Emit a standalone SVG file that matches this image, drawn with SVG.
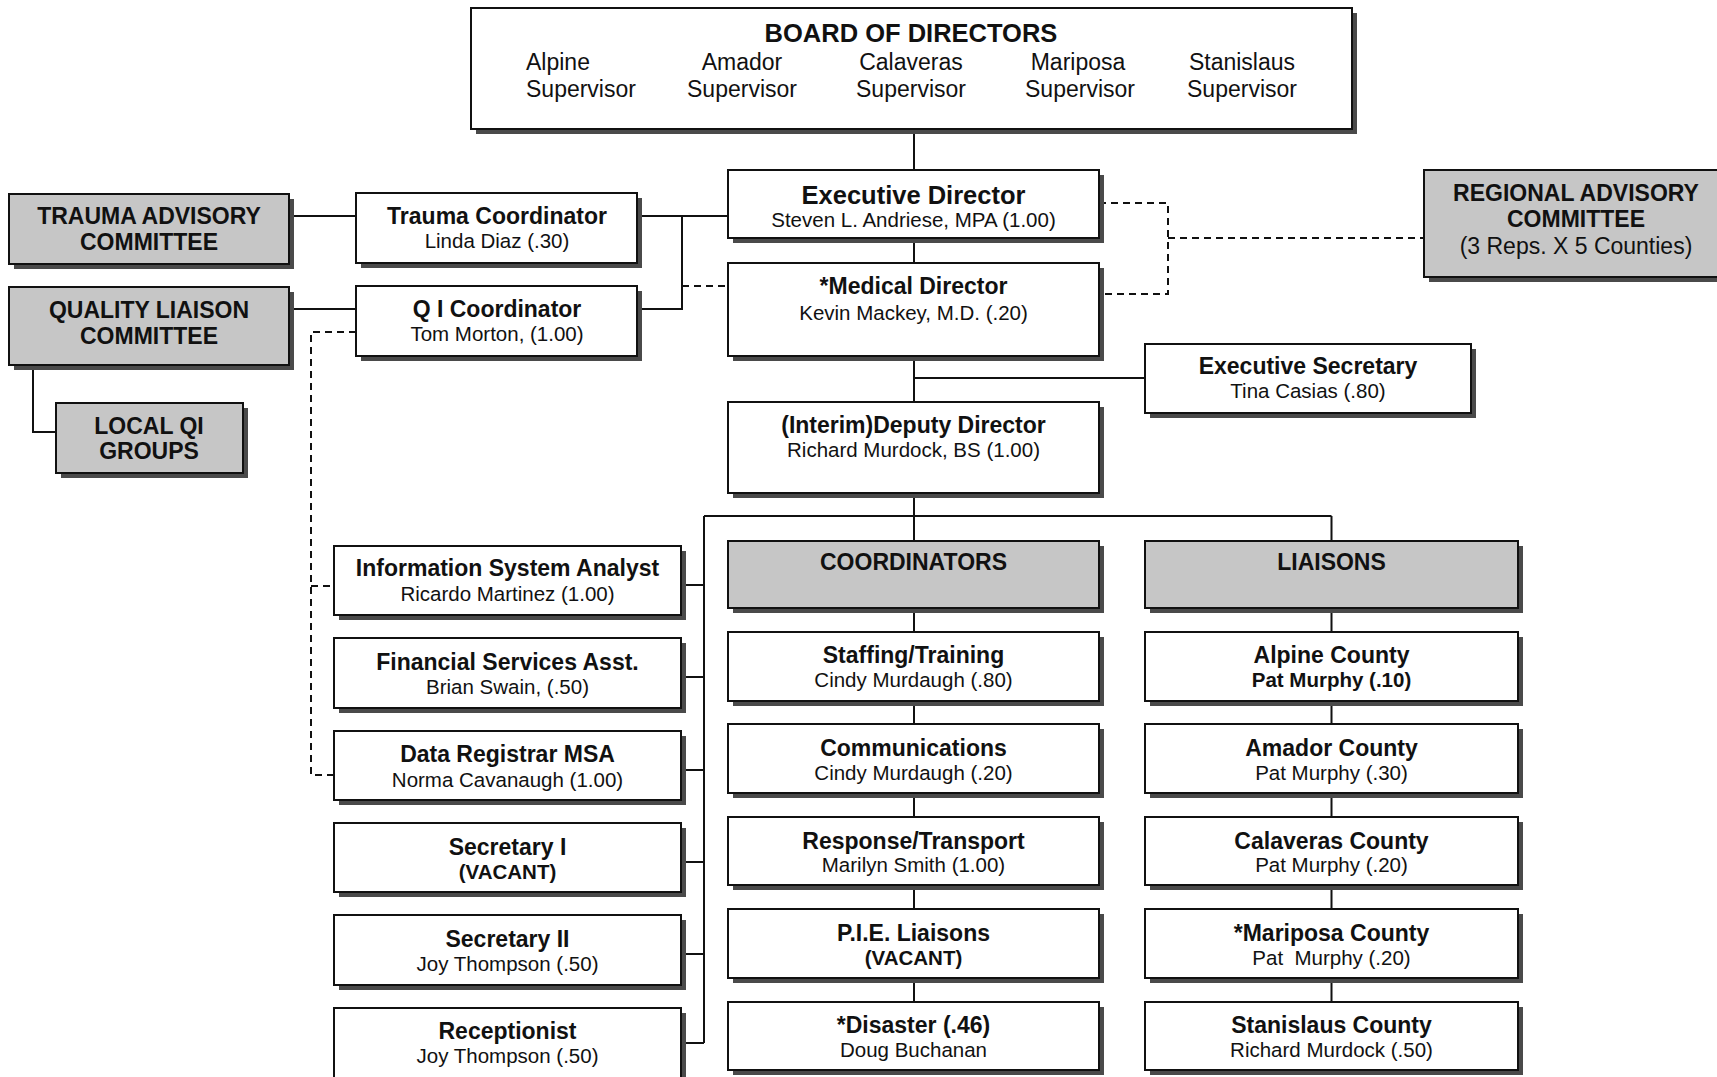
<svg xmlns="http://www.w3.org/2000/svg" width="1717" height="1077" viewBox="0 0 1717 1077">
<style>
text{font-family:"Liberation Sans",Arial,sans-serif;fill:#111;text-anchor:middle}
.t{font-size:23px;font-weight:bold}
.tb{font-size:25.5px;font-weight:bold}
.s{font-size:20.5px}
.sb{font-size:20.5px;font-weight:bold}
.c{font-size:23px}
.box{fill:#fff;stroke:#111;stroke-width:2}
.gbox{fill:#c6c6c6;stroke:#111;stroke-width:2}
.sh{fill:#4a4a4a}
.ln{fill:none;stroke:#111;stroke-width:2}
.dl{fill:none;stroke:#111;stroke-width:2;stroke-dasharray:7 5}
</style>
<rect width="1717" height="1077" fill="#fff"/>
<g id="connectors">
<path class="ln" d="M914 129V170M914 238V263M914 356V402M914 378H1145M914 493V516M704 516H1331.5M914 516V541M1331.5 516V541M704 516V1043"/>
<path class="ln" d="M681 585H704M681 677H704M681 770H704M681 862H704M681 954H704M681 1043H704"/>
<path class="ln" d="M914 608V632M914 701V724M914 793V817M914 885V909M914 978V1002"/>
<path class="ln" d="M1331.5 608V632M1331.5 701V724M1331.5 793V817M1331.5 885V909M1331.5 978V1002"/>
<path class="ln" d="M290 216H356M290 309H356M637 216H728M682 216V309H637M33 365V432H56"/>
<path class="dl" d="M682 286H728M1099 203H1168V294H1099M1168 238H1424M356 332H311V775H334M311 586H334"/>
</g>
<g id="board">
<rect class="sh" x="476" y="13" width="881" height="121"/>
<rect class="box" x="471" y="8" width="881" height="121"/>
<text class="tb" x="911" y="42">BOARD OF DIRECTORS</text>
<text class="c" x="526" y="70" text-anchor="start" style="text-anchor:start">Alpine</text>
<text class="c" x="526" y="97" style="text-anchor:start">Supervisor</text>
<text class="c" x="742" y="70">Amador</text>
<text class="c" x="742" y="97">Supervisor</text>
<text class="c" x="911" y="70">Calaveras</text>
<text class="c" x="911" y="97">Supervisor</text>
<text class="c" x="1078" y="70">Mariposa</text>
<text class="c" x="1080" y="97">Supervisor</text>
<text class="c" x="1242" y="70">Stanislaus</text>
<text class="c" x="1242" y="97">Supervisor</text>
</g>
<g id="exec-director">
<rect class="sh" x="733" y="175" width="371" height="68"/>
<rect class="box" x="728" y="170" width="371" height="68"/>
<text class="tb" x="913.5" y="204">Executive Director</text>
<text class="s" x="913.5" y="227">Steven L. Andriese, MPA (1.00)</text>
</g>
<g id="medical-director">
<rect class="sh" x="733" y="268" width="371" height="93"/>
<rect class="box" x="728" y="263" width="371" height="93"/>
<text class="t" x="913.5" y="294">*Medical Director</text>
<text class="s" x="913.5" y="320">Kevin Mackey, M.D. (.20)</text>
</g>
<g id="deputy-director">
<rect class="sh" x="733" y="407" width="371" height="91"/>
<rect class="box" x="728" y="402" width="371" height="91"/>
<text class="t" x="913.5" y="433">(Interim)Deputy Director</text>
<text class="s" x="913.5" y="457">Richard Murdock, BS (1.00)</text>
</g>
<g id="exec-secretary">
<rect class="sh" x="1150" y="349" width="326" height="69"/>
<rect class="box" x="1145" y="344" width="326" height="69"/>
<text class="t" x="1308" y="374">Executive Secretary</text>
<text class="s" x="1308" y="398">Tina Casias (.80)</text>
</g>
<g id="regional-advisory">
<rect class="sh" x="1429" y="175" width="300" height="107"/>
<rect class="gbox" x="1424" y="170" width="300" height="107"/>
<text class="t" x="1576" y="201">REGIONAL ADVISORY</text>
<text class="t" x="1576" y="227">COMMITTEE</text>
<text class="c" x="1576" y="254">(3 Reps. X 5 Counties)</text>
</g>
<g id="trauma-advisory">
<rect class="sh" x="14" y="199" width="280" height="70"/>
<rect class="gbox" x="9" y="194" width="280" height="70"/>
<text class="t" x="149" y="224">TRAUMA ADVISORY</text>
<text class="t" x="149" y="250">COMMITTEE</text>
</g>
<g id="quality-liaison">
<rect class="sh" x="14" y="292" width="280" height="78"/>
<rect class="gbox" x="9" y="287" width="280" height="78"/>
<text class="t" x="149" y="318">QUALITY LIAISON</text>
<text class="t" x="149" y="344">COMMITTEE</text>
</g>
<g id="local-qi">
<rect class="sh" x="61" y="408" width="187" height="70"/>
<rect class="gbox" x="56" y="403" width="187" height="70"/>
<text class="t" x="149" y="434">LOCAL QI</text>
<text class="t" x="149" y="459">GROUPS</text>
</g>
<g id="trauma-coordinator">
<rect class="sh" x="361" y="198" width="281" height="70"/>
<rect class="box" x="356" y="193" width="281" height="70"/>
<text class="t" x="497" y="224">Trauma Coordinator</text>
<text class="s" x="497" y="248">Linda Diaz (.30)</text>
</g>
<g id="qi-coordinator">
<rect class="sh" x="361" y="291" width="281" height="70"/>
<rect class="box" x="356" y="286" width="281" height="70"/>
<text class="t" x="497" y="317">Q I Coordinator</text>
<text class="s" x="497" y="341">Tom Morton, (1.00)</text>
</g>
<g id="info-analyst">
<rect class="sh" x="339" y="551" width="347" height="69"/>
<rect class="box" x="334" y="546" width="347" height="69"/>
<text class="t" x="507.5" y="576">Information System Analyst</text>
<text class="s" x="507.5" y="601">Ricardo Martinez (1.00)</text>
</g>
<g id="financial-asst">
<rect class="sh" x="339" y="643" width="347" height="70"/>
<rect class="box" x="334" y="638" width="347" height="70"/>
<text class="t" x="507.5" y="670">Financial Services Asst.</text>
<text class="s" x="507.5" y="694">Brian Swain, (.50)</text>
</g>
<g id="data-registrar">
<rect class="sh" x="339" y="736" width="347" height="69"/>
<rect class="box" x="334" y="731" width="347" height="69"/>
<text class="t" x="507.5" y="762">Data Registrar MSA</text>
<text class="s" x="507.5" y="787">Norma Cavanaugh (1.00)</text>
</g>
<g id="secretary-1">
<rect class="sh" x="339" y="828" width="347" height="69"/>
<rect class="box" x="334" y="823" width="347" height="69"/>
<text class="t" x="507.5" y="855">Secretary I</text>
<text class="sb" x="507.5" y="879">(VACANT)</text>
</g>
<g id="secretary-2">
<rect class="sh" x="339" y="920" width="347" height="70"/>
<rect class="box" x="334" y="915" width="347" height="70"/>
<text class="t" x="507.5" y="947">Secretary II</text>
<text class="s" x="507.5" y="971">Joy Thompson (.50)</text>
</g>
<g id="receptionist">
<rect class="sh" x="339" y="1013" width="347" height="70"/>
<rect class="box" x="334" y="1008" width="347" height="70"/>
<text class="t" x="507.5" y="1039">Receptionist</text>
<text class="s" x="507.5" y="1063">Joy Thompson (.50)</text>
</g>
<g id="coordinators">
<rect class="sh" x="733" y="546" width="371" height="67"/>
<rect class="gbox" x="728" y="541" width="371" height="67"/>
<text class="t" x="913.5" y="570">COORDINATORS</text>
</g>
<g id="staffing">
<rect class="sh" x="733" y="637" width="371" height="69"/>
<rect class="box" x="728" y="632" width="371" height="69"/>
<text class="t" x="913.5" y="663">Staffing/Training</text>
<text class="s" x="913.5" y="687">Cindy Murdaugh (.80)</text>
</g>
<g id="communications">
<rect class="sh" x="733" y="729" width="371" height="69"/>
<rect class="box" x="728" y="724" width="371" height="69"/>
<text class="t" x="913.5" y="756">Communications</text>
<text class="s" x="913.5" y="780">Cindy Murdaugh (.20)</text>
</g>
<g id="response">
<rect class="sh" x="733" y="822" width="371" height="68"/>
<rect class="box" x="728" y="817" width="371" height="68"/>
<text class="t" x="913.5" y="849">Response/Transport</text>
<text class="s" x="913.5" y="872">Marilyn Smith (1.00)</text>
</g>
<g id="pie">
<rect class="sh" x="733" y="914" width="371" height="69"/>
<rect class="box" x="728" y="909" width="371" height="69"/>
<text class="t" x="913.5" y="941">P.I.E. Liaisons</text>
<text class="sb" x="913.5" y="965">(VACANT)</text>
</g>
<g id="disaster">
<rect class="sh" x="733" y="1007" width="371" height="68"/>
<rect class="box" x="728" y="1002" width="371" height="68"/>
<text class="t" x="913.5" y="1033">*Disaster (.46)</text>
<text class="s" x="913.5" y="1057">Doug Buchanan</text>
</g>
<g id="liaisons">
<rect class="sh" x="1150" y="546" width="373" height="67"/>
<rect class="gbox" x="1145" y="541" width="373" height="67"/>
<text class="t" x="1331.5" y="570">LIAISONS</text>
</g>
<g id="alpine">
<rect class="sh" x="1150" y="637" width="373" height="69"/>
<rect class="box" x="1145" y="632" width="373" height="69"/>
<text class="t" x="1331.5" y="663">Alpine County</text>
<text class="sb" x="1331.5" y="687">Pat Murphy (.10)</text>
</g>
<g id="amador">
<rect class="sh" x="1150" y="729" width="373" height="69"/>
<rect class="box" x="1145" y="724" width="373" height="69"/>
<text class="t" x="1331.5" y="756">Amador County</text>
<text class="s" x="1331.5" y="780">Pat Murphy (.30)</text>
</g>
<g id="calaveras">
<rect class="sh" x="1150" y="822" width="373" height="68"/>
<rect class="box" x="1145" y="817" width="373" height="68"/>
<text class="t" x="1331.5" y="849">Calaveras County</text>
<text class="s" x="1331.5" y="872">Pat Murphy (.20)</text>
</g>
<g id="mariposa">
<rect class="sh" x="1150" y="914" width="373" height="69"/>
<rect class="box" x="1145" y="909" width="373" height="69"/>
<text class="t" x="1331.5" y="941">*Mariposa County</text>
<text class="s" x="1331.5" y="965" xml:space="preserve">Pat  Murphy (.20)</text>
</g>
<g id="stanislaus">
<rect class="sh" x="1150" y="1007" width="373" height="68"/>
<rect class="box" x="1145" y="1002" width="373" height="68"/>
<text class="t" x="1331.5" y="1033">Stanislaus County</text>
<text class="s" x="1331.5" y="1057">Richard Murdock (.50)</text>
</g>
</svg>
